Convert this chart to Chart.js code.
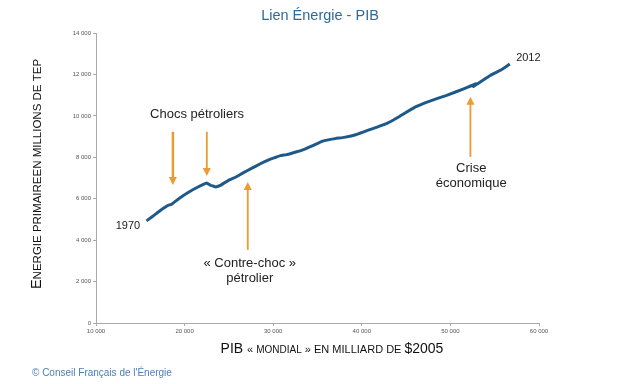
<!DOCTYPE html>
<html>
<head>
<meta charset="utf-8">
<script src="https://cdn.jsdelivr.net/npm/chart.js@4.4.1/dist/chart.umd.min.js"></script>
<style>
  body { margin: 0; background: #fff; }
  #wrap { position: relative; width: 625px; height: 384px; }
</style>
</head>
<body>
<div id="wrap"><canvas id="chart"></canvas></div>
<script>
// Données : PIB mondial (milliards $2005) et énergie primaire (Mtep), 1970-2012
const annees = [1970, 1971, 1972, 1973, 1974, 1975, 1976, 1977, 1978, 1979,
  1980, 1981, 1982, 1983, 1984, 1985, 1986, 1987, 1988, 1989,
  1990, 1991, 1992, 1993, 1994, 1995, 1996, 1997, 1998, 1999,
  2000, 2001, 2002, 2003, 2004, 2005, 2006, 2007, 2008, 2009,
  2010, 2011, 2012];
const pib = [15700, 16300, 17000, 18000, 18300, 18500, 19500, 20400, 21400, 22500,
  22900, 23300, 23500, 24100, 25000, 25800, 26600, 27500, 28600, 29500,
  30300, 30800, 31500, 32200, 33200, 34400, 35600, 37000, 38000, 39400,
  41000, 41800, 42900, 44200, 46000, 47600, 49500, 51500, 52900, 52600,
  54500, 55900, 56700];
const energie = [4930, 5120, 5350, 5650, 5700, 5720, 6050, 6300, 6540, 6760,
  6650, 6600, 6570, 6660, 6900, 7050, 7250, 7450, 7700, 7880,
  8000, 8080, 8130, 8210, 8330, 8550, 8780, 8900, 8960, 9100,
  9350, 9470, 9650, 9960, 10420, 10700, 10980, 11300, 11550, 11420,
  11950, 12260, 12500];

const xTicks = [10000, 20000, 30000, 40000, 50000, 60000];
const yTicks = [0, 2000, 4000, 6000, 8000, 10000, 12000, 14000];

// Annotations placées en coordonnées de données
const textes = [
  { lignes: ['Chocs pétroliers'], x: 21400, y: 10050 },
  { lignes: ['« Contre-choc »', 'pétrolier'], x: 27350, y: 2900 },
  { lignes: ['Crise', 'économique'], x: 52350, y: 7450 },
  { lignes: ['1970'], x: 13600, y: 4680 },
  { lignes: ['2012'], x: 58800, y: 12800 }
];
const fleches = [
  { x: 18680, de: 9230, a: 6660, w: 2.5 },
  { x: 22510, de: 9230, a: 7100, w: 1.8 },
  { x: 27130, de: 3530, a: 6810, w: 1.8 },
  { x: 52260, de: 8020, a: 10920, w: 1.8 }
];

const fmt = v => String(v).replace(/\B(?=(\d{3})+(?!\d))/g, ' ');

function drawSegments(ctx, segs, cx, cy) {
  let total = 0;
  segs.forEach(s => { ctx.font = s[1] + 'px "Liberation Sans", Arial, sans-serif'; total += ctx.measureText(s[0]).width; });
  let x = cx - total / 2;
  ctx.textAlign = 'left';
  ctx.textBaseline = 'alphabetic';
  segs.forEach(s => {
    ctx.font = s[1] + 'px "Liberation Sans", Arial, sans-serif';
    ctx.fillText(s[0], x, cy);
    x += ctx.measureText(s[0]).width;
  });
}

const decor = {
  id: 'decor',
  afterDraw(chart) {
    const ctx = chart.ctx;
    const xs = chart.scales.x, ys = chart.scales.y;
    ctx.save();

    // titre
    ctx.fillStyle = '#2f6b9a';
    ctx.font = '14.5px "Liberation Sans", Arial, sans-serif';
    ctx.textAlign = 'center';
    ctx.textBaseline = 'middle';
    ctx.fillText('Lien Énergie - PIB', 320, 16);

    // titres des axes
    ctx.fillStyle = '#111';
    drawSegments(ctx, [['PIB ', 14], ['« ', 11], ['MONDIAL', 10], [' » ', 11], ['EN MILLIARD DE ', 11], ['$2005', 14]], 332, 353);
    ctx.save();
    ctx.translate(41, 174);
    ctx.rotate(-Math.PI / 2);
    drawSegments(ctx, [['E', 14.5], ['NERGIE PRIMAIREEN MILLIONS DE TEP', 11.5]], 0, 0);
    ctx.restore();

    // flèches
    ctx.strokeStyle = '#ec9b33';
    ctx.fillStyle = '#ec9b33';
    fleches.forEach(f => {
      const px = xs.getPixelForValue(f.x);
      const y0 = ys.getPixelForValue(f.de), y1 = ys.getPixelForValue(f.a);
      const dir = y1 > y0 ? 1 : -1;
      ctx.lineWidth = f.w;
      ctx.beginPath();
      ctx.moveTo(px, y0);
      ctx.lineTo(px, y1 - dir * 6);
      ctx.stroke();
      ctx.beginPath();
      ctx.moveTo(px - 4, y1 - dir * 8);
      ctx.lineTo(px + 4, y1 - dir * 8);
      ctx.lineTo(px, y1);
      ctx.closePath();
      ctx.fill();
    });

    // textes
    ctx.fillStyle = '#222';
    ctx.textAlign = 'center';
    ctx.textBaseline = 'middle';
    textes.forEach(t => {
      const px = xs.getPixelForValue(t.x), py = ys.getPixelForValue(t.y);
      ctx.font = (t.lignes[0].length === 4 ? '11px' : '13px') + ' "Liberation Sans", Arial, sans-serif';
      t.lignes.forEach((l, i) => ctx.fillText(l, px, py + i * 15));
    });

    // source
    ctx.fillStyle = '#4b7fb0';
    ctx.font = '10px "Liberation Sans", Arial, sans-serif';
    ctx.textAlign = 'left';
    ctx.fillText('© Conseil Français de l\'Énergie', 32, 373);
    ctx.restore();
  }
};

new Chart(document.getElementById('chart'), {
  type: 'line',
  data: {
    datasets: [{
      data: pib.map((v, i) => ({ x: v, y: energie[i] })),
      borderColor: '#1d5a8a',
      borderWidth: 3,
      pointRadius: 0,
      tension: 0.1,
      fill: false
    }]
  },
  options: {
    responsive: true,
    maintainAspectRatio: false,
    animation: false,
    layout: { padding: { top: 33, right: 86, bottom: 0, left: 0 } },
    plugins: { legend: { display: false }, tooltip: { enabled: false } },
    scales: {
      x: {
        type: 'linear', min: 10000, max: 60000,
        afterBuildTicks: s => { s.ticks = xTicks.map(v => ({ value: v })); },
        afterFit: s => { s.height = 61; },
        grid: { drawOnChartArea: false, drawTicks: true, tickLength: 3, color: '#aaa' },
        border: { color: '#aaa' },
        ticks: { callback: fmt, font: { size: 6 }, color: '#555', padding: 2, maxRotation: 0 }
      },
      y: {
        min: 0, max: 14000,
        afterBuildTicks: s => { s.ticks = yTicks.map(v => ({ value: v })); },
        afterFit: s => { s.width = 96; },
        grid: { drawOnChartArea: false, drawTicks: true, tickLength: 3, color: '#aaa' },
        border: { color: '#aaa' },
        ticks: { callback: fmt, font: { size: 6 }, color: '#555', padding: 2 }
      }
    }
  },
  plugins: [decor]
});
</script>
</body>
</html>
